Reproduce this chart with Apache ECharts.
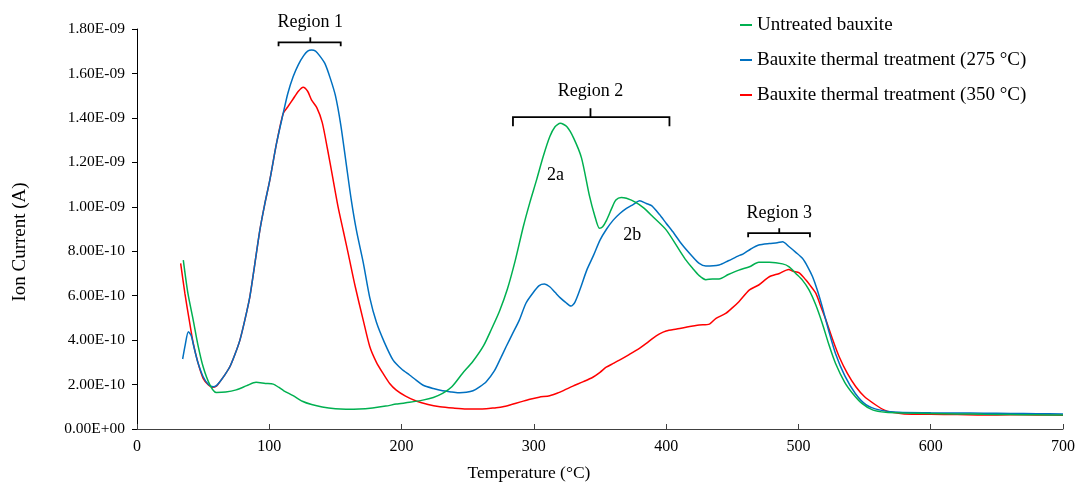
<!DOCTYPE html>
<html>
<head>
<meta charset="utf-8">
<script src="https://cdn.jsdelivr.net/npm/echarts@6/dist/echarts.min.js"></script>
<style>
html,body{margin:0;padding:0;background:#fff;}
#chart{width:1078px;height:484px;}
</style>
</head>
<body>
<div id="chart"></div>
<script>
// ---- data ----
const seriesNames = ['Untreated bauxite', 'Bauxite thermal treatment (275 °C)', 'Bauxite thermal treatment (350 °C)'];

// [Temperature (°C), Ion current (A)]
const untreated = [
[35,7.6e-10],[38.5,6.1e-10],[42.5,4.9e-10],[46,3.8e-10],[50,2.8e-10],[55,2.0e-10],[60,1.64e-10],[67,1.66e-10],
[75,1.76e-10],[83,1.95e-10],[90,2.1e-10],[97,2.05e-10],[103,2.02e-10],[107,1.88e-10],[111,1.72e-10],[118,1.5e-10],
[125,1.25e-10],[132,1.1e-10],[140,0.99e-10],[150,0.91e-10],[158,0.89e-10],[168,0.9e-10],[178,0.95e-10],[188,1.03e-10],
[196,1.12e-10],[206,1.2e-10],[216,1.3e-10],[224,1.42e-10],[231,1.6e-10],[238,1.9e-10],[246,2.5e-10],[254,3.05e-10],
[262,3.75e-10],[268,4.5e-10],[274,5.3e-10],[280,6.3e-10],[286,7.6e-10],[292,9.1e-10],[297,10.2e-10],[302,11.2e-10],
[307,12.25e-10],[312,13.15e-10],[316,13.6e-10],[320,13.76e-10],[325,13.6e-10],[330,13.1e-10],[336,12.2e-10],[342,10.5e-10],
[346,9.6e-10],[349.6,9.03e-10],[352,9.1e-10],[355,9.4e-10],[359,9.95e-10],[362,10.3e-10],[366,10.42e-10],[370,10.38e-10],
[377,10.2e-10],[383,9.95e-10],[390,9.55e-10],[400,8.96e-10],[410,8.05e-10],[415,7.6e-10],[420,7.23e-10],[425,6.9e-10],
[430,6.72e-10],[435,6.75e-10],[440,6.75e-10],[447,6.95e-10],[455,7.15e-10],[463,7.3e-10],[470,7.5e-10],[478,7.5e-10],
[488,7.43e-10],[493,7.3e-10],[498,7.0e-10],[503,6.7e-10],[508,6.26e-10],[513,5.6e-10],[518,4.76e-10],[523,3.8e-10],
[528,2.96e-10],[535,2.1e-10],[541,1.6e-10],[548,1.15e-10],[556,0.86e-10],[566,0.75e-10],[580,0.72e-10],[600,0.7e-10],
[620,0.68e-10],[640,0.66e-10],[660,0.65e-10],[680,0.64e-10],[700,0.63e-10]
];

const treated275 = [
[34.5,3.15e-10],[36.5,3.8e-10],[38.8,4.38e-10],[41,4.2e-10],[43,3.7e-10],[46,3.0e-10],[50,2.35e-10],[54,2.0e-10],
[57.6,1.9e-10],[60,1.95e-10],[62.7,2.13e-10],[66,2.4e-10],[70.2,2.8e-10],[74,3.35e-10],[77.8,4.0e-10],[81.5,4.9e-10],
[85.3,5.95e-10],[89,7.4e-10],[92.9,8.96e-10],[96.5,10.1e-10],[100.4,11.2e-10],[105.5,12.86e-10],[110.5,14.2e-10],
[114,15.1e-10],[118,15.85e-10],[122,16.4e-10],[126,16.8e-10],[129,17.0e-10],[132,17.05e-10],[135,17.0e-10],[138,16.8e-10],
[142,16.45e-10],[146,15.8e-10],[150,15.0e-10],[154,13.7e-10],[158,12.0e-10],[162,10.3e-10],[166,8.9e-10],[171,7.5e-10],
[176,5.9e-10],[181,4.8e-10],[187,3.9e-10],[193.6,3.1e-10],[200,2.7e-10],[206,2.43e-10],[211,2.2e-10],[216,1.98e-10],
[224,1.82e-10],[231,1.72e-10],[238,1.67e-10],[244,1.63e-10],[249,1.65e-10],[254,1.72e-10],[259,1.9e-10],[264,2.13e-10],
[270,2.6e-10],[275,3.2e-10],[279,3.7e-10],[284,4.3e-10],[289,4.9e-10],[294,5.66e-10],[299,6.1e-10],[304,6.45e-10],
[308,6.52e-10],[312,6.4e-10],[316,6.15e-10],[320,5.9e-10],[324,5.7e-10],[328,5.53e-10],[331,5.7e-10],[335,6.3e-10],
[340,7.15e-10],[345,7.8e-10],[350,8.5e-10],[355,9.0e-10],[360,9.4e-10],[365,9.7e-10],[370,9.93e-10],[375,10.1e-10],
[380,10.27e-10],[385,10.15e-10],[389,10.05e-10],[395,9.65e-10],[400,9.26e-10],[406,8.8e-10],[412,8.3e-10],[420,7.75e-10],
[425,7.45e-10],[430,7.33e-10],[440,7.38e-10],[447,7.57e-10],[455,7.8e-10],[458,7.87e-10],[464,8.1e-10],[470,8.28e-10],
[478,8.35e-10],[484,8.38e-10],[488,8.43e-10],[493,8.2e-10],[498,7.95e-10],[503,7.68e-10],[507,7.3e-10],[510.7,6.85e-10],
[514,6.3e-10],[518,5.5e-10],[523,4.4e-10],[528,3.4e-10],[535,2.4e-10],[543,1.6e-10],[551,1.1e-10],[561,0.86e-10],
[576,0.75e-10],[600,0.73e-10],[620,0.72e-10],[640,0.71e-10],[660,0.7e-10],[680,0.69e-10],[700,0.68e-10]
];

const treated350 = [
[33,7.45e-10],[36.2,6.1e-10],[39.5,4.9e-10],[42.5,3.86e-10],[46,3.0e-10],[50,2.28e-10],[54,1.98e-10],[57,1.88e-10],
[60,1.93e-10],[62.7,2.13e-10],[66,2.4e-10],[70.2,2.8e-10],[74,3.35e-10],[77.8,4.0e-10],[81.5,4.9e-10],[85.3,5.95e-10],
[89,7.4e-10],[92.9,8.96e-10],[96.5,10.1e-10],[100.4,11.2e-10],[105.5,12.86e-10],[110.5,14.2e-10],[114,14.5e-10],
[118,14.85e-10],[122,15.2e-10],[125.6,15.38e-10],[129,15.2e-10],[132,14.8e-10],[136,14.45e-10],[140,13.8e-10],
[144,12.6e-10],[148,11.3e-10],[152,10.0e-10],[156,8.9e-10],[160,7.8e-10],[165,6.4e-10],[171,4.9e-10],[176,3.7e-10],
[181,3.0e-10],[186,2.5e-10],[191,2.05e-10],[196,1.75e-10],[203,1.48e-10],[211,1.26e-10],[220,1.1e-10],[229,1.0e-10],
[239,0.94e-10],[249,0.9e-10],[257,0.9e-10],[264,0.91e-10],[270,0.95e-10],[276.6,1.0e-10],[283,1.1e-10],[290,1.22e-10],
[297,1.34e-10],[304,1.43e-10],[312,1.5e-10],[318,1.62e-10],[323,1.75e-10],[329.5,1.93e-10],[337,2.12e-10],[344.6,2.33e-10],
[350,2.55e-10],[354.7,2.78e-10],[360,2.95e-10],[364.7,3.1e-10],[372,3.35e-10],[379.8,3.63e-10],[385,3.85e-10],
[389.9,4.08e-10],[395,4.28e-10],[400,4.41e-10],[408,4.5e-10],[415,4.58e-10],[425,4.68e-10],[432.7,4.72e-10],
[437.7,4.98e-10],[445,5.2e-10],[450,5.45e-10],[455,5.73e-10],[463,6.26e-10],[470,6.48e-10],[478,6.85e-10],[485.6,7.0e-10],
[492.6,7.18e-10],[496,7.1e-10],[500.6,7.03e-10],[505.7,6.7e-10],[509,6.45e-10],[513.2,6.1e-10],[517,5.5e-10],
[520.8,4.9e-10],[526,4.0e-10],[530.8,3.25e-10],[537,2.5e-10],[543.4,1.9e-10],[550,1.45e-10],[558.5,1.08e-10],
[565,0.85e-10],[571,0.75e-10],[580,0.68e-10],[600,0.66e-10],[620,0.65e-10],[640,0.63e-10],[660,0.64e-10],
[680,0.63e-10],[700,0.62e-10]
];

// axis ticks
const xTicks = [0, 100, 200, 300, 400, 500, 600, 700];
const yTicks = [0, 2e-10, 4e-10, 6e-10, 8e-10, 10e-10, 12e-10, 14e-10, 16e-10, 18e-10];

// region braces: [x start, x end, x centre, y level, label]
const regionBraces = [
  [107, 154, 131, 17.4e-10, 'Region 1'],
  [284.2, 402.5, 342.8, 14.03e-10, 'Region 2'],
  [462, 508.7, 485.5, 8.81e-10, 'Region 3']
];
// peak labels: [x, y, label]
const peakLabels = [
  [316.4, 11.43e-10, '2a'],
  [374.3, 8.73e-10, '2b']
];

// ---- styles ----
const FONTFAM = "'Liberation Serif', 'Times New Roman', serif";
const colors = ['#00B050', '#0070C0', '#FF0000'];
const braceSize = [{end: 4, tick: 5, gap: 20}, {end: 9, tick: 9, gap: 26}, {end: 4, tick: 5, gap: 20}];

function sciFmt(v) {
  let s = Number(v).toExponential(2);
  let parts = s.split('e');
  let exp = parseInt(parts[1], 10);
  let sign = exp < 0 ? '-' : '+';
  let a = Math.abs(exp);
  return parts[0] + 'E' + sign + (a < 10 ? '0' + a : '' + a);
}

const chart = echarts.init(document.getElementById('chart'), null, {renderer: 'canvas'});

const lineSeries = [untreated, treated275, treated350].map((d, i) => ({
  name: seriesNames[i],
  type: 'line',
  data: d,
  showSymbol: false,
  symbol: 'none',
  smooth: 0.25,
  lineStyle: {color: colors[i], width: 1.5},
  itemStyle: {color: colors[i]},
  z: 3 - i + 2
}));

const option = {
  animation: false,
  backgroundColor: '#fff',
  textStyle: {fontFamily: FONTFAM},
  grid: {left: 137, right: 14, top: 29, bottom: 55, containLabel: false},
  legend: {
    orient: 'vertical',
    left: 735,
    top: 10,
    itemWidth: 12,
    itemHeight: 2,
    itemGap: 15,
    icon: 'rect',
    data: seriesNames,
    textStyle: {fontFamily: FONTFAM, fontSize: 19, color: '#000', lineHeight: 20}
  },
  xAxis: {
    type: 'value',
    min: xTicks[0],
    max: xTicks[xTicks.length - 1],
    interval: xTicks[1] - xTicks[0],
    axisLine: {show: true, lineStyle: {color: '#404040', width: 1}},
    axisTick: {show: true, inside: true, length: 5, lineStyle: {color: '#404040'}},
    splitLine: {show: false},
    axisLabel: {fontFamily: FONTFAM, fontSize: 16, color: '#000', margin: 10}
  },
  yAxis: {
    type: 'value',
    min: yTicks[0],
    max: yTicks[yTicks.length - 1],
    interval: yTicks[1] - yTicks[0],
    axisLine: {show: true, lineStyle: {color: '#000', width: 1}},
    axisTick: {show: true, inside: false, length: 5, lineStyle: {color: '#000'}},
    splitLine: {show: false},
    axisLabel: {fontFamily: FONTFAM, fontSize: 15.5, color: '#000', margin: 12, formatter: sciFmt}
  },
  graphic: [
    {
      type: 'text',
      x: 529, y: 473,
      style: {text: 'Temperature (°C)', font: "17.5px 'Liberation Serif', 'Times New Roman', serif", fill: '#000', align: 'center', verticalAlign: 'middle'}
    },
    {
      type: 'text',
      x: 20, y: 242,
      rotation: Math.PI / 2,
      style: {text: 'Ion Current (A)', font: "19px 'Liberation Serif', 'Times New Roman', serif", fill: '#000', align: 'center', verticalAlign: 'middle'}
    }
  ],
  series: lineSeries.concat([
    {
      type: 'custom',
      name: 'braces',
      data: regionBraces.map(r => r.slice(0, 4)),
      silent: true,
      z: 10,
      renderItem: function (params, api) {
        const idx = params.dataIndex;
        const r = regionBraces[idx];
        const s = braceSize[idx];
        const p1 = api.coord([r[0], r[3]]);
        const p2 = api.coord([r[1], r[3]]);
        const pc = api.coord([r[2], r[3]]);
        return {
          type: 'group',
          children: [
            {type: 'polyline', shape: {points: [[p1[0], p1[1] + s.end], [p1[0], p1[1]], [p2[0], p2[1]], [p2[0], p2[1] + s.end]]},
             style: {stroke: '#000', lineWidth: 1.8, fill: null}},
            {type: 'line', shape: {x1: pc[0], y1: pc[1], x2: pc[0], y2: pc[1] - s.tick},
             style: {stroke: '#000', lineWidth: 1.8}},
            {type: 'text', x: pc[0], y: pc[1] - s.gap,
             style: {text: r[4], font: "18px 'Liberation Serif', 'Times New Roman', serif", fill: '#000', align: 'center', verticalAlign: 'middle'}}
          ]
        };
      }
    },
    {
      type: 'custom',
      name: 'peaks',
      data: peakLabels.map(p => p.slice(0, 2)),
      silent: true,
      z: 10,
      renderItem: function (params, api) {
        const p = peakLabels[params.dataIndex];
        const c = api.coord([p[0], p[1]]);
        return {type: 'text', x: c[0], y: c[1],
          style: {text: p[2], font: "18px 'Liberation Serif', 'Times New Roman', serif", fill: '#000', align: 'center', verticalAlign: 'middle'}};
      }
    }
  ])
};

chart.setOption(option);
</script>
</body>
</html>
